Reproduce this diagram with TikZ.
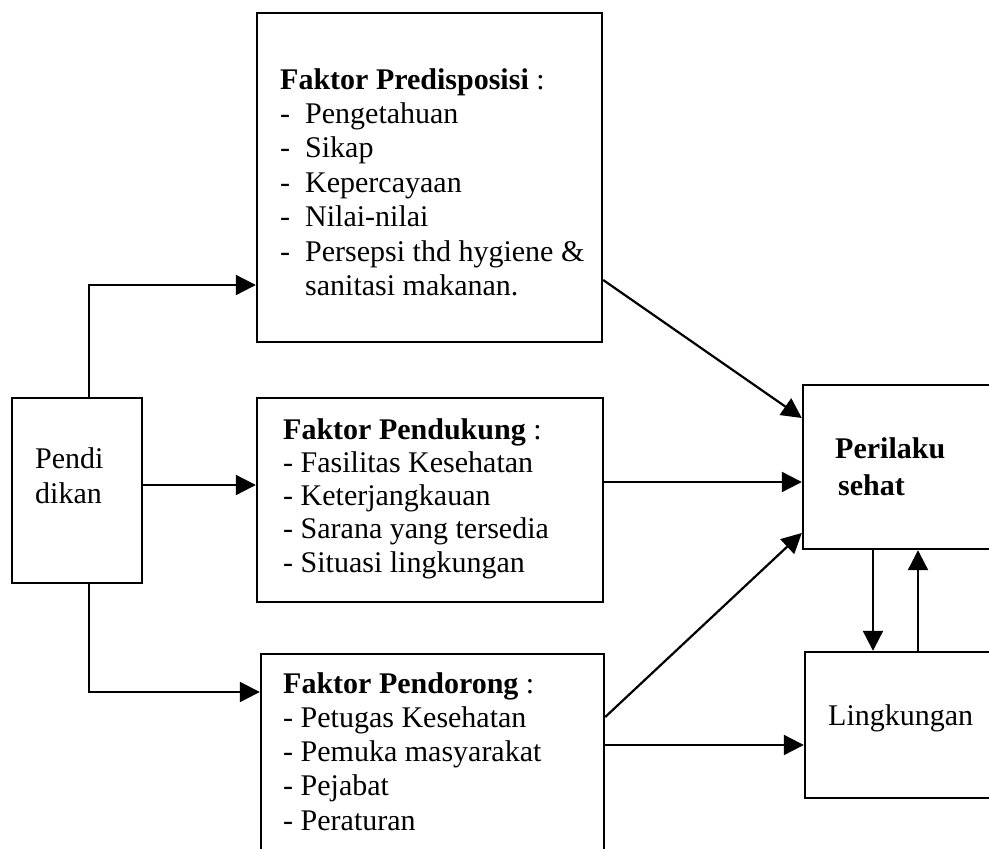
\documentclass[tikz,border=0pt]{standalone}
\usepackage{fontspec}
\setmainfont{Liberation Serif}
\usetikzlibrary{arrows.meta}
\begin{document}
\begin{tikzpicture}[x=1pt,y=-1pt,
  boxnode/.style={draw,line width=2.4pt,inner sep=0pt,rectangle},
  txt/.style={anchor=base west,inner sep=0pt},
  conn/.style={line width=2.2pt,-{Triangle[length=20pt,width=20pt]}}]
\useasboundingbox (0,0) rectangle (989,849);
\clip (0,0) rectangle (989,849);
\fill[white] (0,0) rectangle (989,849);
% boxes
\node[boxnode,minimum width=130pt,minimum height=185pt] (edu) at (77,490.5) {};
\node[boxnode,minimum width=345pt,minimum height=329pt] (pred) at (429.5,177.5) {};
\node[boxnode,minimum width=346pt,minimum height=204pt] (pend) at (430,500) {};
\node[boxnode,minimum width=343pt,minimum height=266pt] (dor) at (432.5,787) {};
\node[boxnode,minimum width=297pt,minimum height=164pt] (per) at (951.5,467) {};
\node[boxnode,minimum width=295pt,minimum height=146pt] (ling) at (952.5,725) {};
% texts
\node[txt,font=\fontsize{30}{35}\selectfont] (edutxt) at (35,468)
  {\begin{tabular}[t]{@{}l@{}}Pendi\\dikan\end{tabular}};
\node[txt,font=\fontsize{30}{34.4}\selectfont] (predtxt) at (280,89)
  {\begin{tabular}[t]{@{}l@{}}\textbf{Faktor Predisposisi} :\\
  \makebox[25pt][l]{-}Pengetahuan\\
  \makebox[25pt][l]{-}Sikap\\
  \makebox[25pt][l]{-}Kepercayaan\\
  \makebox[25pt][l]{-}Nilai-nilai\\
  \makebox[25pt][l]{-}Persepsi thd hygiene \&\\
  \hspace*{25pt}sanitasi makanan.\end{tabular}};
\node[txt,font=\fontsize{30}{33.3}\selectfont] (pendtxt) at (283,439)
  {\begin{tabular}[t]{@{}l@{}}\textbf{Faktor Pendukung} :\\
  - Fasilitas Kesehatan\\
  - Keterjangkauan\\
  - Sarana yang tersedia\\
  - Situasi lingkungan\end{tabular}};
\node[txt,font=\fontsize{30}{34.3}\selectfont] (dortxt) at (283,693)
  {\begin{tabular}[t]{@{}l@{}}\textbf{Faktor Pendorong} :\\
  - Petugas Kesehatan\\
  - Pemuka masyarakat\\
  - Pejabat\\
  - Peraturan\end{tabular}};
\node[txt,font=\fontsize{30}{37}\selectfont\bfseries] (pertxt) at (835,458)
  {\begin{tabular}[t]{@{}l@{}}Perilaku\\\hspace*{3pt}sehat\end{tabular}};
\node[txt,font=\fontsize{30}{35}\selectfont] (lingtxt) at (828,725) {Lingkungan};
% connectors
\coordinate (eduTop) at ([xshift=12pt]edu.north);
\coordinate (eduBot) at ([xshift=12pt]edu.south);
\draw[conn] (eduTop) |- (pred.west |- 0,285);
\draw[conn] (edu.east |- 0,485) -- (pend.west |- 0,485);
\draw[conn] (eduBot) |- (dor.west |- 0,692);
\draw[conn] (pred.east |- 0,280) -- (per.west |- 0,418);
\draw[conn] (pend.east |- 0,482) -- (per.west |- 0,482);
\draw[conn] (dor.east |- 0,717) -- (per.west |- 0,533);
\draw[conn] (dor.east |- 0,745) -- (ling.west |- 0,745);
\draw[conn] (per.south -| 873,0) -- (ling.north -| 873,0);
\draw[conn] (ling.north -| 918,0) -- (per.south -| 918,0);
\end{tikzpicture}
\end{document}
